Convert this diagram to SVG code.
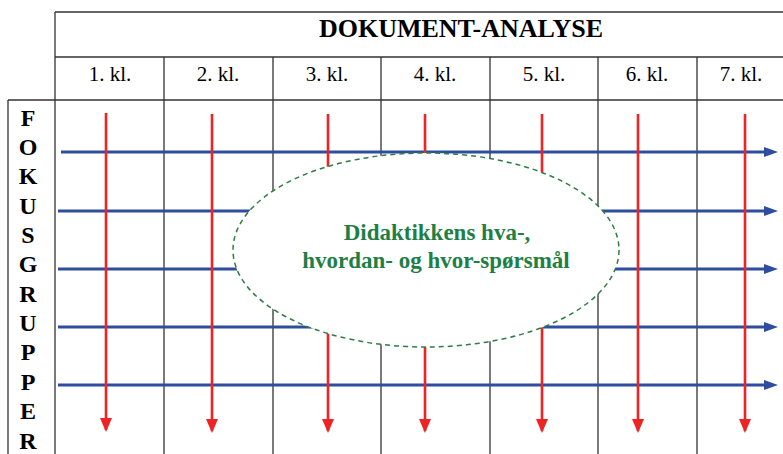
<svg xmlns="http://www.w3.org/2000/svg" width="783" height="454" viewBox="0 0 783 454">
<style>
.grid{stroke:#333;stroke-width:1.3;fill:none}
.blue{stroke:#2f4d9e;stroke-width:3;fill:none}
.red{stroke:#ee2424;stroke-width:2.6;fill:none}
.hdr{font-family:'Liberation Serif','Times New Roman',serif;font-weight:bold;font-size:26px;fill:#000;text-anchor:middle}
.col{font-family:'Liberation Serif','Times New Roman',serif;font-size:21px;fill:#000;text-anchor:middle}
.let{font-family:'Liberation Serif','Times New Roman',serif;font-weight:bold;font-size:24px;fill:#000;text-anchor:middle}
.ell{font-family:'Liberation Serif','Times New Roman',serif;font-weight:bold;font-size:23px;fill:#1e7f45;text-anchor:middle}
</style>
<defs>
<marker id="ab" markerWidth="16" markerHeight="14" refX="9" refY="7" orient="auto" markerUnits="userSpaceOnUse"><path d="M0,2 L14,7 L0,12 z" fill="#2f4d9e"/></marker>
<marker id="ar" markerWidth="16" markerHeight="16" refX="7" refY="12" orient="0" markerUnits="userSpaceOnUse"><path d="M1,0 L13,0 L7,14 z" fill="#ee2424"/></marker>
</defs>
<rect width="783" height="454" fill="#fff"/>
<g id="grid">
<path class="grid" d="M55,12 H783 M55,57 H783 M8,100 H783 M55,12 V454 M8,100 V454 M164,57 V454 M273,57 V454 M381,57 V454 M490,57 V454 M598,57 V454 M697,57 V454"/>
</g>
<g id="header">
<text class="hdr" x="461" y="37">DOKUMENT-ANALYSE</text>
<text class="col" x="110" y="81">1. kl.</text>
<text class="col" x="218" y="81">2. kl.</text>
<text class="col" x="327" y="81">3. kl.</text>
<text class="col" x="435" y="81">4. kl.</text>
<text class="col" x="544" y="81">5. kl.</text>
<text class="col" x="647" y="81">6. kl.</text>
<text class="col" x="741" y="81">7. kl.</text>
</g>
<g id="fokusgrupper">
<text class="let" x="28" y="126">F</text>
<text class="let" x="28" y="155">O</text>
<text class="let" x="28" y="184">K</text>
<text class="let" x="28" y="214">U</text>
<text class="let" x="28" y="243">S</text>
<text class="let" x="28" y="272">G</text>
<text class="let" x="28" y="302">R</text>
<text class="let" x="28" y="331">U</text>
<text class="let" x="28" y="360">P</text>
<text class="let" x="28" y="390">P</text>
<text class="let" x="28" y="419">E</text>
<text class="let" x="28" y="449">R</text>
</g>
<g id="connectors">
<path class="blue" marker-end="url(#ab)" d="M61,152 H773"/>
<path class="blue" marker-end="url(#ab)" d="M58,211 H773"/>
<path class="blue" marker-end="url(#ab)" d="M58,269 H773"/>
<path class="blue" marker-end="url(#ab)" d="M58,327 H773"/>
<path class="blue" marker-end="url(#ab)" d="M58,385 H773"/>
<path class="red" marker-end="url(#ar)" d="M106,113 V430"/>
<path class="red" marker-end="url(#ar)" d="M212,114 V431"/>
<path class="red" marker-end="url(#ar)" d="M328,114 V431"/>
<path class="red" marker-end="url(#ar)" d="M425,114 V431"/>
<path class="red" marker-end="url(#ar)" d="M542,114 V431"/>
<path class="red" marker-end="url(#ar)" d="M638,114 V431"/>
<path class="red" marker-end="url(#ar)" d="M745,114 V431"/>
</g>
<g id="didaktikk">
<ellipse cx="426" cy="250" rx="193" ry="97" fill="#fff" stroke="#2e7d44" stroke-width="1.5" stroke-dasharray="5,4"/>
<text class="ell" x="437" y="240">Didaktikkens hva-,</text>
<text class="ell" x="436" y="268">hvordan- og hvor-spørsmål</text>
</g>
</svg>
